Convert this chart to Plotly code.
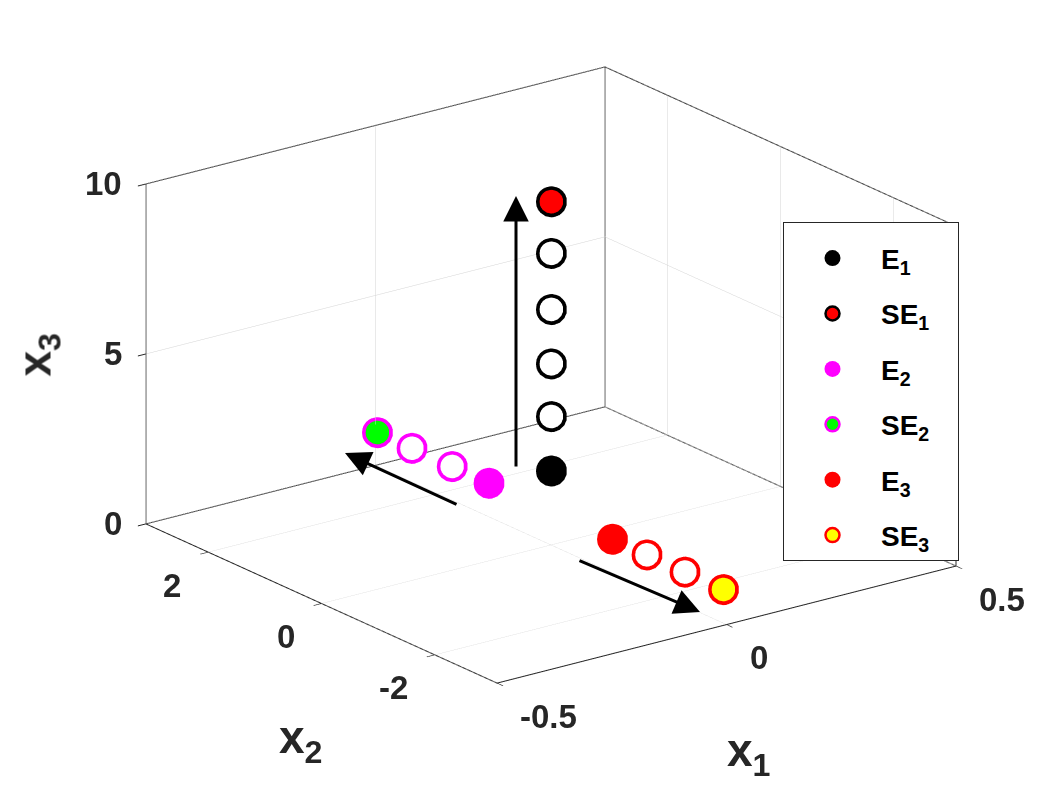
import plotly.graph_objects as go

# ---------------- axis settings ----------------
X1_RANGE = [-0.5, 0.5]
X2_RANGE = [-3.1, 3.1]
X3_RANGE = [0, 10]
X1_TICKS = [-0.5, 0, 0.5]
X1_TICKTEXT = ["-0.5", "0", "0.5"]
X2_TICKS = [-2, 0, 2]
X2_TICKTEXT = ["-2", "0", "2"]
X3_TICKS = [0, 5, 10]
X3_TICKTEXT = ["0", "5", "10"]

# ---------------- data ----------------
# branch 1 (along x3)
E1_X1 = [0.015]
E1_X2 = [0.12]
E1_X3 = [2.05]
B1_X1 = [0.015, 0.015, 0.015, 0.015]
B1_X2 = [0.12, 0.12, 0.12, 0.12]
B1_X3 = [3.65, 5.2, 6.8, 8.45]
SE1_X1 = [0.015]
SE1_X2 = [0.12]
SE1_X3 = [9.97]

# branch 2 (along +x2)
E2_X1 = [0.0]
E2_X2 = [1.1]
E2_X3 = [1.0]
B2_X1 = [0.0, 0.0]
B2_X2 = [1.75, 2.46]
B2_X3 = [1.0, 1.0]
SE2_X1 = [0.0]
SE2_X2 = [3.07]
SE2_X3 = [1.0]

# branch 3 (along -x2)
E3_X1 = [0.0]
E3_X2 = [-1.08]
E3_X3 = [1.0]
B3_X1 = [0.0, 0.0]
B3_X2 = [-1.69, -2.36]
B3_X3 = [1.0, 1.0]
SE3_X1 = [0.0]
SE3_X2 = [-3.04]
SE3_X3 = [1.0]

W, H = 1057, 786
# 2-D arrows drawn on the figure (paper fractions): tip and tail
ARROW_TIPS = [(516 / W, 1 - 196 / H), (345 / W, 1 - 453 / H), (700 / W, 1 - 612 / H)]
ARROW_TAILS = [(516 / W, 1 - 468 / H), (458 / W, 1 - 505 / H), (578 / W, 1 - 560 / H)]

FONT = "Liberation Sans"
AXCOL = "#262626"
MS = 18          # outer marker size
MS_IN = 14       # inner marker size (leaves a ring of the edge colour)
LEG_LW = 2.5

VIEW = (-0.564, -0.752, 0.340)   # camera direction
ZOOM = 1.53
ASPECT = (1.0 * ZOOM, 1.02 * ZOOM, 0.63 * ZOOM)
RANGES = (X1_RANGE, X2_RANGE, X3_RANGE)
EPS = 0.001
OFF = [EPS * VIEW[i] * (RANGES[i][1] - RANGES[i][0]) / ASPECT[i] for i in range(3)]

fig = go.Figure()

# box edges (back style)
a0, a1 = X1_RANGE
b0, b1 = X2_RANGE
c0, c1 = X3_RANGE
bx = [a0, a0, a0, a1, a1, a1, a0, None, a0, a1, a1, None, a1, a1]
by = [b1, b1, b0, b0, b0, b1, b1, None, b1, b1, b1, None, b1, b0]
bz = [c1, c0, c0, c0, c1, c1, c1, None, c0, c0, c1, None, c0, c0]
fig.add_trace(go.Scatter3d(x=bx, y=by, z=bz, mode="lines",
                           line=dict(color=AXCOL, width=2),
                           showlegend=False, hoverinfo="skip"))


def shift(vals, i):
    return [v + OFF[i] for v in vals]


def ringed(x, y, z, fill, edge, name, show, group):
    # outer disc in the edge colour
    fig.add_trace(go.Scatter3d(
        x=x, y=y, z=z, mode="markers", showlegend=False, legendgroup=group,
        marker=dict(size=MS, color=edge, symbol="circle", line=dict(color=edge, width=0)),
        hoverinfo="skip"))
    # inner disc with the fill colour, slightly towards the camera
    fig.add_trace(go.Scatter3d(
        x=shift(x, 0), y=shift(y, 1), z=shift(z, 2), mode="markers",
        name=name, showlegend=show, legendgroup=group,
        marker=dict(size=MS_IN, color=fill, symbol="circle",
                    line=dict(color=edge, width=LEG_LW))))


def solid(x, y, z, fill, name, group):
    fig.add_trace(go.Scatter3d(
        x=x, y=y, z=z, mode="markers", name=name, showlegend=True, legendgroup=group,
        marker=dict(size=MS, color=fill, symbol="circle", line=dict(color=fill, width=0))))


PAD = "\u00a0" * 3
solid(E1_X1, E1_X2, E1_X3, "black", "E<sub>1</sub>" + PAD, "g1")
ringed(SE1_X1, SE1_X2, SE1_X3, "red", "black", "SE<sub>1</sub>" + PAD, True, "g2")
solid(E2_X1, E2_X2, E2_X3, "magenta", "E<sub>2</sub>" + PAD, "g3")
ringed(SE2_X1, SE2_X2, SE2_X3, "lime", "magenta", "SE<sub>2</sub>" + PAD, True, "g4")
solid(E3_X1, E3_X2, E3_X3, "red", "E<sub>3</sub>" + PAD, "g5")
ringed(SE3_X1, SE3_X2, SE3_X3, "yellow", "red", "SE<sub>3</sub>" + PAD, True, "g6")
ringed(B1_X1, B1_X2, B1_X3, "white", "black", "b1", False, "o1")
ringed(B2_X1, B2_X2, B2_X3, "white", "magenta", "b2", False, "o2")
ringed(B3_X1, B3_X2, B3_X3, "white", "red", "b3", False, "o3")


def axis(rng, tv):
    return dict(range=rng, tickvals=tv, title=dict(text=""), showticklabels=False,
                showbackground=False, showgrid=True, gridcolor="#d4d4d4", gridwidth=1,
                showline=True, linecolor=AXCOL, linewidth=2, zeroline=False,
                ticks="outside", ticklen=10, tickwidth=2,
                tickcolor=AXCOL, showspikes=False, autorange=False)


eye = dict(x=VIEW[0] * 2, y=VIEW[1] * 2, z=VIEW[2] * 2)

tickfont = dict(family=FONT, size=33, color=AXCOL, weight="bold")
scene_ann = []
for v, t in zip(X3_TICKS, X3_TICKTEXT):
    scene_ann.append(dict(x=a0, y=b1, z=v, text=t, showarrow=False, xanchor="right",
                          yanchor="middle", xshift=-22, yshift=0, font=tickfont))
for v, t in zip(X2_TICKS, X2_TICKTEXT):
    scene_ann.append(dict(x=a0, y=v, z=c0, text=t, showarrow=False, xanchor="right",
                          yanchor="middle", xshift=-25, yshift=-33, font=tickfont))
for v, t in zip(X1_TICKS, X1_TICKTEXT):
    scene_ann.append(dict(x=v, y=b0, z=c0, text=t, showarrow=False, xanchor="left",
                          yanchor="middle", xshift=21, yshift=-33, font=tickfont))

annotations = []
for (tx, ty), (sx, sy) in zip(ARROW_TIPS, ARROW_TAILS):
    annotations.append(dict(
        x=tx, y=ty, xref="paper", yref="paper", text="", showarrow=True,
        ax=(sx - tx) * W, ay=-(sy - ty) * H, axref="pixel", ayref="pixel",
        arrowhead=2, arrowsize=1.7, arrowwidth=3, arrowcolor="black", standoff=0))

lab = dict(family=FONT, size=46, color=AXCOL, weight="bold")
annotations += [
    dict(x=773 / W, y=1 - 785 / H, xref="paper", yref="paper", text="x<sub>1</sub>",
         showarrow=False, font=lab),
    dict(x=277 / W, y=1 - 772 / H, xref="paper", yref="paper", text="x<sub>2</sub>",
         showarrow=False, font=lab),
    dict(x=7 / W, y=1 - 355 / H, xref="paper", yref="paper", text="x<sub>3</sub>",
         showarrow=False, font=lab, textangle=-90),
]

fig.update_layout(
    width=W, height=H, margin=dict(l=0, r=0, t=0, b=0),
    paper_bgcolor="white", plot_bgcolor="white",
    scene=dict(
        domain=dict(x=[0.0426, 1.0], y=[0.0458, 1.0]),
        xaxis=axis(X1_RANGE, X1_TICKS),
        yaxis=axis(X2_RANGE, X2_TICKS),
        zaxis=axis(X3_RANGE, X3_TICKS),
        aspectmode="manual",
        aspectratio=dict(x=ASPECT[0], y=ASPECT[1], z=ASPECT[2]),
        camera=dict(eye=eye, up=dict(x=0, y=0, z=1), center=dict(x=0, y=0, z=0),
                    projection=dict(type="orthographic")),
        annotations=scene_ann,
    ),
    legend=dict(x=783 / W, y=1 - 222 / H, xanchor="left", yanchor="top",
                bordercolor=AXCOL, borderwidth=1, bgcolor="white",
                font=dict(family=FONT, size=28, color="black", weight="bold"),
                title=dict(text="\u00a0", font=dict(size=8)),
                tracegroupgap=16, itemsizing="trace", itemwidth=87),
    annotations=annotations,
    showlegend=True,
)

fig.write_html("out.html")
